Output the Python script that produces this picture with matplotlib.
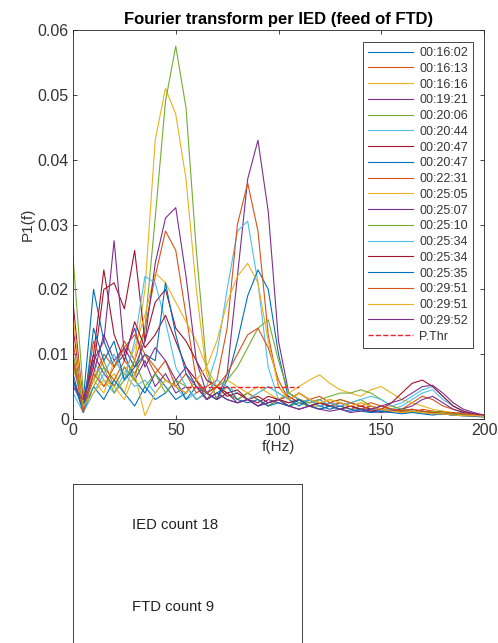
import matplotlib
matplotlib.use('Agg')
import matplotlib.pyplot as plt
import numpy as np

plt.rcParams['font.family'] = ['Liberation Sans', 'DejaVu Sans']

# frequency grid (Hz)
freq = np.arange(0, 201, 5)

# P1(f) per IED, values in units of 1e-3
s01 = [9, 3, 20, 12, 8, 10, 6, 4, 7, 5, 3, 4, 6, 3, 4, 3, 2.5, 3, 2, 2.5, 3, 2, 2.5, 2, 1.5, 2, 2.5, 2, 1.5, 2, 1.5, 1.2, 1.5, 1, 1.2, 1, 1, 0.8, 1, 0.8, 0.6]
s02 = [12, 2, 6, 10, 8, 12, 9, 14, 22, 29, 26, 16, 6, 3, 5, 4, 3, 4, 3, 2, 3, 2.5, 3, 2, 2.5, 2, 2, 1.5, 2, 1.5, 1.2, 1.5, 1.2, 1, 1.5, 1.2, 1, 0.8, 0.8, 0.6, 0.5]
s03 = [6, 2, 8, 5, 7, 4, 9, 20, 43, 51, 47, 37, 20, 7, 3, 5, 4, 3, 4, 5, 4, 3, 4, 3, 2.5, 3, 2.5, 2, 2.5, 2, 1.5, 2, 1.5, 1.2, 1, 1.2, 1, 0.8, 0.8, 0.6, 0.5]
s04 = [8, 3, 10, 7, 5, 8, 6, 9, 5, 7, 4, 5, 3, 4, 3, 7, 22, 37, 43, 32, 12, 4, 3, 2.5, 3, 2, 2.5, 2, 1.5, 2, 1.5, 1.2, 1, 1.2, 1, 0.8, 0.8, 0.6, 0.5, 0.5, 0.4]
s05 = [25, 4, 6, 9, 5, 8, 6, 14, 31, 49, 57.5, 48, 26, 8, 3, 4, 3, 4, 3, 2, 3, 2, 2.5, 2, 2, 2.5, 3, 2.5, 3, 2, 1.5, 1.5, 1.2, 1, 1.2, 1, 0.8, 0.8, 0.6, 0.5, 0.5]
s06 = [5, 2, 9, 6, 4, 7, 5, 6, 4, 6, 5, 3, 4, 5, 10, 20, 29, 30.5, 21, 8, 3, 4, 3, 2.5, 3, 2, 2.5, 2, 1.5, 1.5, 1.2, 1.5, 2, 3, 4, 4.5, 3, 2, 1.2, 0.8, 0.5]
s07 = [14, 3, 8, 20, 21, 17, 26, 12, 18, 20, 14, 12, 9, 6, 5, 4, 4.5, 3, 3.5, 2.5, 3, 3.5, 2.5, 3, 2, 2.5, 2, 2.5, 2, 1.5, 2, 1.5, 1.2, 1.5, 1.2, 1, 1.2, 0.8, 0.8, 0.6, 0.5]
s08 = [7, 1, 5, 3, 6, 4, 2, 5, 3, 4, 6, 3, 5, 4, 3, 6, 12, 19, 23, 20, 10, 3, 2, 3, 2, 1.5, 2, 1.5, 1.2, 1, 1.2, 1, 1.5, 1.2, 1, 0.8, 0.8, 0.6, 0.6, 0.5, 0.4]
s09 = [10, 2, 12, 8, 6, 9, 7, 10, 8, 6, 5, 7, 4, 5, 6, 14, 30, 36.4, 29, 13, 5, 3, 4, 3, 2.5, 2, 2.5, 2, 1.5, 2, 1.5, 1.2, 1.5, 2.5, 3.5, 3, 2, 1.5, 1, 0.8, 0.6]
s10 = [8, 3, 6, 4, 9, 7, 11, 16, 22.5, 21, 18, 15, 12, 8, 5, 6, 5, 4, 5, 4, 3, 4, 5, 6, 6.8, 5.5, 4.5, 4, 3.5, 4.5, 5, 4, 3, 2.5, 2, 1.5, 1.2, 1, 0.8, 0.6, 0.5]
s11 = [6, 2, 7, 13, 9, 11, 8, 12, 24, 31, 32.6, 22, 9, 4, 3, 4, 2.5, 3, 2, 3, 2.5, 2, 1.5, 2, 2.5, 2, 1.5, 2, 1.5, 1.2, 1, 1.2, 1.5, 2, 3, 3.5, 2.5, 1.5, 1, 0.8, 0.6]
s12 = [10, 2, 5, 8, 4, 6, 9, 5, 7, 4, 6, 5, 3, 4, 5, 6, 8, 11, 14, 15.3, 9, 4, 3, 2.5, 3, 3.5, 4, 4, 4.5, 4, 3, 2, 1.5, 1.2, 1, 1.2, 1, 0.8, 0.6, 0.5, 0.4]
s13 = [4, 1, 4, 7, 10, 6, 12, 22, 21, 15, 8, 5, 3, 4, 6, 5, 4, 3, 4, 5, 4, 3, 2.5, 3, 2, 2.5, 2, 2.5, 3, 3.5, 3, 2, 2.5, 3.5, 4.5, 5, 3.5, 2, 1.2, 0.8, 0.5]
s14 = [18, 2, 10, 23, 13, 9, 15, 11, 13, 16, 12, 8, 6, 4, 5, 3.5, 4, 3, 2.5, 3.5, 3, 2.5, 3, 2, 2.5, 2, 1.5, 2, 1.5, 1.2, 1.5, 2.5, 4, 5.5, 6, 5, 3.5, 2, 1.2, 0.8, 0.5]
s15 = [6, 1, 14, 9, 12, 6, 8, 10, 9, 21, 13, 7, 5, 3, 4, 5, 3, 2.5, 3, 2, 2.5, 2, 3, 2, 1.5, 2, 1.5, 1.2, 1.5, 1, 1.2, 1, 0.8, 1, 0.8, 0.6, 0.8, 0.6, 0.5, 0.4, 0.3]
s16 = [9, 1, 7, 5, 8, 11, 13, 10, 7, 9, 5, 4, 6, 4, 5, 7, 10, 13, 14, 11, 6, 3, 4, 3, 3.5, 2.5, 3, 2.5, 2, 2.5, 2, 1.5, 1.2, 1.5, 1.2, 1, 0.8, 1, 0.8, 0.6, 0.5]
s17 = [16, 2, 4, 6, 5, 3, 7, 0.5, 4, 6, 5, 4, 6, 8, 12, 18, 22, 24, 21, 12, 5, 3, 4, 3, 2.5, 3, 2.5, 2, 2.5, 2, 1.5, 1.2, 1, 1.2, 1, 0.8, 0.8, 0.6, 0.5, 0.5, 0.4]
s18 = [5, 3, 9, 12, 27.5, 10, 14, 8, 11, 9, 6, 8, 5, 3, 4, 3, 2.5, 3, 2, 2.5, 3, 2, 1.5, 2, 1.5, 1.2, 1.5, 1, 1.2, 1.5, 2, 2.5, 3, 4, 5, 5.2, 4, 2.5, 1.5, 1, 0.6]

series = [s01, s02, s03, s04, s05, s06, s07, s08, s09,
          s10, s11, s12, s13, s14, s15, s16, s17, s18]
labels = ['00:16:02', '00:16:13', '00:16:16', '00:19:21', '00:20:06', '00:20:44',
          '00:20:47', '00:20:47', '00:22:31', '00:25:05', '00:25:07', '00:25:10',
          '00:25:34', '00:25:34', '00:25:35', '00:29:51', '00:29:51', '00:29:52']

# power threshold
thr_x = [55, 110]
thr_y = [0.0049, 0.0049]

ied_count = 18
ftd_count = 9

matlab_colors = ['#0072BD', '#D95319', '#EDB120', '#7E2F8E',
                 '#77AC30', '#4DBEEE', '#A2142F']

fig = plt.figure(figsize=(4.98, 6.43), dpi=100)

ax = fig.add_axes([0.1466, 0.3484, 0.8253, 0.6049])
for i, (s, lab) in enumerate(zip(series, labels)):
    ax.plot(freq, np.array(s) / 1000, color=matlab_colors[i % 7], lw=0.8, label=lab)
ax.plot(thr_x, thr_y, '--', color='#E8242E', lw=1.0, label='P.Thr')

ax.set_xlim(0, 200)
ax.set_ylim(0, 0.06)
ax.set_xticks([0, 50, 100, 150, 200])
ax.set_yticks([0, 0.01, 0.02, 0.03, 0.04, 0.05, 0.06])
ax.set_yticklabels(['0', '0.01', '0.02', '0.03', '0.04', '0.05', '0.06'])
ax.tick_params(direction='in', top=True, right=True, length=3, width=0.6,
               labelsize=11.5, colors='#262626', labelcolor='#333333', pad=3)
for sp in ax.spines.values():
    sp.set_linewidth(0.6)
    sp.set_color('#262626')
ax.set_xlabel('f(Hz)', fontsize=11, color='#333333', labelpad=1)
ax.set_ylabel('P1(f)', fontsize=11, color='#333333', labelpad=2)
ax.set_title('Fourier transform per IED (feed of FTD)', fontsize=12,
             fontweight='bold', pad=4)

leg = ax.legend(loc='upper right', bbox_to_anchor=(0.973, 0.969), borderaxespad=0,
                fontsize=9, handlelength=3.6, labelspacing=0.3, handletextpad=0.5,
                fancybox=False, framealpha=1, borderpad=0.4)
leg.get_frame().set_edgecolor('#262626')
leg.get_frame().set_linewidth(0.6)
for t in leg.get_texts():
    t.set_color('#333333')

# counts box
ax2 = fig.add_axes([0.1466, -0.1, 0.4598, 0.3473])
ax2.set_xticks([])
ax2.set_yticks([])
ax2.set_xlim(0, 1)
ax2.set_ylim(0, 1)
for sp in ax2.spines.values():
    sp.set_linewidth(0.6)
    sp.set_color('#262626')
ax2.text(132, 643 - 525, 'IED count %d' % ied_count, transform=None,
         fontsize=10.7, va='center', ha='left', color='#222222')
ax2.text(132, 643 - 607, 'FTD count %d' % ftd_count, transform=None,
         fontsize=10.7, va='center', ha='left', color='#222222')

fig.savefig('out.png', dpi=100)
